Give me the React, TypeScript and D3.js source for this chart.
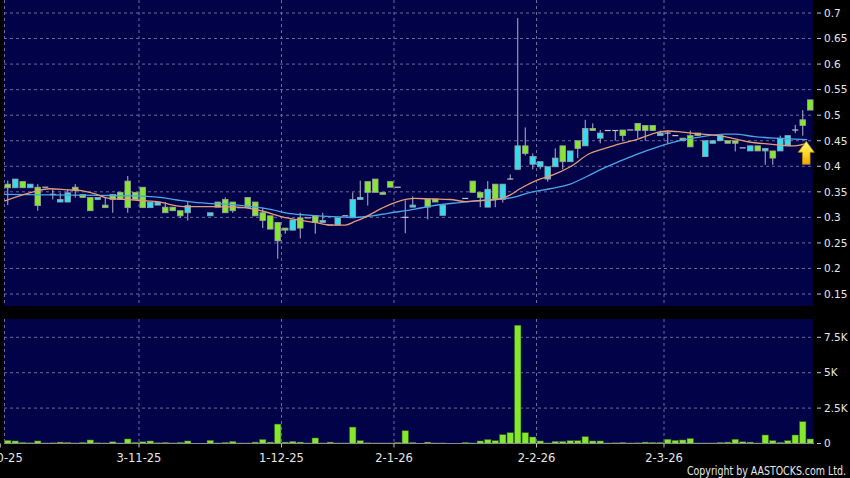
import React from 'react';
import * as d3 from 'd3';

const W = 850;
const H = 478;

// OHLC per trading-day slot (null = no trade that day)
const OPEN = [
  0.365, 0.358, 0.370, 0.358, 0.359, 0.359, 0.345, 0.330, 0.330, 0.359,
  0.345, 0.339, 0.335, 0.324, 0.345, 0.349, 0.371, 0.349, 0.359, 0.319,
  0.324, 0.320, 0.320, 0.313, 0.309, null, null, 0.303, 0.330, 0.335,
  0.330, 0.319, 0.339, 0.330, 0.309, 0.303, 0.290, 0.279, 0.275, 0.299,
  0.299, 0.303, 0.290, 0.285, 0.285, 0.303, 0.299, 0.335, 0.370, 0.375,
  0.349, 0.370, 0.359, 0.300, 0.320, null, 0.336, 0.336, 0.304, null,
  null, 0.337, 0.371, 0.349, 0.320, 0.365, 0.335, 0.375, 0.394, 0.440,
  0.404, 0.399, 0.375, 0.399, 0.440, 0.409, 0.450, 0.440, 0.474, 0.455,
  0.470, 0.470, 0.471, 0.471, 0.484, 0.480, 0.480, 0.460, 0.465, 0.460,
  0.455, 0.460, 0.465, 0.419, 0.445, 0.450, 0.450, 0.450, 0.436, 0.430,
  0.440, 0.430, 0.430, 0.430, 0.440, 0.471, 0.491, 0.530,
];
const HIGH = [
  0.372, 0.375, 0.370, 0.365, 0.365, 0.359, 0.355, 0.348, 0.355, 0.365,
  0.345, 0.339, 0.339, 0.339, 0.345, 0.349, 0.381, 0.349, 0.359, 0.330,
  0.330, 0.330, 0.320, 0.313, 0.330, null, null, 0.309, 0.330, 0.339,
  0.330, 0.319, 0.339, 0.330, 0.319, 0.303, 0.290, 0.279, 0.295, 0.309,
  0.299, 0.303, 0.309, 0.285, 0.299, 0.303, 0.349, 0.372, 0.370, 0.375,
  0.349, 0.370, 0.359, 0.333, 0.341, null, 0.336, 0.336, 0.324, null,
  null, 0.337, 0.371, 0.349, 0.371, 0.365, 0.365, 0.384, 0.690, 0.476,
  0.425, 0.409, 0.399, 0.435, 0.440, 0.430, 0.450, 0.491, 0.484, 0.471,
  0.470, 0.470, 0.471, 0.471, 0.484, 0.480, 0.480, 0.470, 0.470, 0.460,
  0.455, 0.470, 0.465, 0.450, 0.450, 0.460, 0.450, 0.450, 0.436, 0.440,
  0.440, 0.435, 0.430, 0.460, 0.460, 0.481, 0.510, 0.530,
];
const LOW = [
  0.324, 0.358, 0.358, 0.358, 0.313, 0.359, 0.335, 0.330, 0.330, 0.339,
  0.339, 0.313, 0.335, 0.319, 0.309, 0.335, 0.309, 0.335, 0.319, 0.319,
  0.324, 0.309, 0.313, 0.299, 0.294, null, null, 0.303, 0.320, 0.309,
  0.309, 0.319, 0.319, 0.303, 0.279, 0.277, 0.219, 0.268, 0.275, 0.259,
  0.299, 0.268, 0.290, 0.285, 0.285, 0.303, 0.299, 0.335, 0.323, 0.349,
  0.345, 0.359, 0.359, 0.269, 0.320, null, 0.296, 0.330, 0.304, null,
  null, 0.337, 0.349, 0.320, 0.320, 0.320, 0.329, 0.375, 0.394, 0.421,
  0.394, 0.394, 0.370, 0.399, 0.394, 0.409, 0.416, 0.440, 0.470, 0.445,
  0.470, 0.450, 0.450, 0.471, 0.455, 0.450, 0.470, 0.460, 0.445, 0.460,
  0.450, 0.438, 0.460, 0.419, 0.445, 0.450, 0.445, 0.429, 0.436, 0.430,
  0.430, 0.403, 0.403, 0.430, 0.440, 0.465, 0.460, 0.510,
];
const CLOSE = [
  0.358, 0.375, 0.358, 0.365, 0.323, 0.359, 0.345, 0.335, 0.348, 0.353,
  0.339, 0.313, 0.339, 0.319, 0.335, 0.335, 0.319, 0.335, 0.319, 0.330,
  0.330, 0.309, 0.313, 0.303, 0.323, null, null, 0.309, 0.320, 0.309,
  0.313, 0.319, 0.319, 0.303, 0.294, 0.277, 0.254, 0.275, 0.295, 0.279,
  0.299, 0.290, 0.294, 0.285, 0.299, 0.303, 0.335, 0.339, 0.349, 0.349,
  0.345, 0.359, 0.359, 0.300, 0.324, null, 0.320, 0.330, 0.324, null,
  null, 0.337, 0.349, 0.339, 0.355, 0.335, 0.365, 0.375, 0.440, 0.425,
  0.419, 0.409, 0.399, 0.416, 0.409, 0.430, 0.435, 0.474, 0.470, 0.465,
  0.470, 0.470, 0.460, 0.471, 0.470, 0.470, 0.470, 0.465, 0.465, 0.460,
  0.450, 0.438, 0.460, 0.450, 0.450, 0.460, 0.445, 0.445, 0.436, 0.440,
  0.430, 0.435, 0.416, 0.455, 0.460, 0.471, 0.480, 0.510,
];
// Volume in thousands of shares
const VOLUME = [
  0.22, 0.18, 0.08, 0.05, 0.18, 0.04, 0.05, 0.10, 0.08, 0.04,
  0.08, 0.25, 0.05, 0.04, 0.12, 0.04, 0.32, 0.08, 0.12, 0.18,
  0.05, 0.08, 0.04, 0.08, 0.18, null, null, 0.22, 0.04, 0.08,
  0.15, 0.04, 0.04, 0.10, 0.28, 0.10, 1.37, 0.10, 0.15, 0.10,
  0.04, 0.39, 0.04, 0.10, 0.04, 0.04, 1.16, 0.20, 0.05, 0.04,
  0.04, 0.04, 0.08, 0.90, 0.08, null, 0.10, 0.04, 0.04, null,
  null, 0.08, 0.04, 0.18, 0.28, 0.20, 0.62, 0.76, 8.35, 0.76,
  0.46, 0.18, 0.04, 0.15, 0.15, 0.20, 0.20, 0.48, 0.18, 0.18,
  0.04, 0.05, 0.08, 0.04, 0.05, 0.10, 0.08, 0.08, 0.30, 0.22,
  0.25, 0.35, 0.04, 0.04, 0.04, 0.08, 0.10, 0.30, 0.12, 0.10,
  0.04, 0.60, 0.20, 0.08, 0.20, 0.60, 1.54, 0.32,
];

// Moving averages (slot index, price)
const MA_FAST_IDX = [-0.45, 3.4, 5.6, 7.9, 10, 11.4, 13.6, 15.9, 17.6, 20.3, 22, 23.9, 27, 30.7, 34.3, 36.6, 38.7, 41, 43.2, 45, 46.3, 47.6, 49.9, 52, 54.3, 56.3, 59, 61, 63, 65.2, 67, 68.3, 70.6, 72.7, 75, 77.6, 79.4, 81.6, 83.6, 86.3, 88, 89.9, 92.6, 95.6, 98.7, 101.9, 104.6, 106.6];
const MA_FAST = [0.332, 0.350, 0.356, 0.354, 0.352, 0.347, 0.337, 0.335, 0.333, 0.330, 0.324, 0.321, 0.321, 0.320, 0.311, 0.301, 0.295, 0.290, 0.285, 0.285, 0.292, 0.300, 0.318, 0.331, 0.337, 0.336, 0.335, 0.331, 0.333, 0.335, 0.344, 0.356, 0.373, 0.383, 0.399, 0.425, 0.434, 0.444, 0.451, 0.465, 0.469, 0.467, 0.463, 0.458, 0.448, 0.443, 0.440, 0.445];
const MA_SLOW_IDX = [-0.45, 5.6, 12.3, 16.7, 18.6, 20.3, 22.6, 24.7, 26.3, 30.7, 35.2, 37.4, 39.6, 44, 46.3, 48.6, 50.7, 54.3, 56.3, 60.3, 63.9, 67.4, 69.2, 72.3, 75, 77.2, 79.4, 81.6, 83.6, 86.7, 89.9, 92.6, 95.6, 96.9, 99.6, 102.3, 104.9, 106.6];
const MA_SLOW = [0.345, 0.344, 0.343, 0.342, 0.341, 0.339, 0.334, 0.330, 0.328, 0.324, 0.315, 0.308, 0.305, 0.301, 0.300, 0.303, 0.308, 0.316, 0.322, 0.329, 0.334, 0.339, 0.347, 0.356, 0.365, 0.380, 0.396, 0.410, 0.422, 0.438, 0.451, 0.458, 0.463, 0.463, 0.458, 0.455, 0.453, 0.452];

const X_TICK_POS = [-1, 17.5, 36.5, 51.5, 70.5, 87.5];
const X_TICK_LABELS = ['2-10-25', '3-11-25', '1-12-25', '2-1-26', '2-2-26', '2-3-26'];
const PRICE_TICKS = [0.15, 0.2, 0.25, 0.3, 0.35, 0.4, 0.45, 0.5, 0.55, 0.6, 0.65, 0.7];
const PRICE_TICK_LABELS = ['0.15', '0.2', '0.25', '0.3', '0.35', '0.4', '0.45', '0.5', '0.55', '0.6', '0.65', '0.7'];
const VOL_TICKS = [0, 2.5, 5, 7.5];
const VOL_TICK_LABELS = ['0', '2.5K', '5K', '7.5K'];

const NAVY = '#020249';
const GRID = '#6a6a9e';
const GREEN = '#86e82c';
const CYAN = '#35dcef';
const TEXT = '#e6e6e6';

export default function App() {
  const panelL = 4;
  const panelR = 814;
  const pTop = 0;
  const pBot = 306;
  const vTop = 319;
  const vBot = 443.5;

  const x = d3.scaleLinear().domain([-0.5, OPEN.length - 0.5]).range([panelL, panelR]);
  const y = d3.scaleLinear().domain([0.15, 0.7]).range([294, 13]);
  const yv = d3.scaleLinear().domain([0, 7.5]).range([vBot, 337.3]);

  const fastLine = d3
    .line<number>()
    .x((_, i) => x(MA_FAST_IDX[i]))
    .y((d) => y(d))
    .curve(d3.curveMonotoneX);
  const slowLine = d3
    .line<number>()
    .x((_, i) => x(MA_SLOW_IDX[i]))
    .y((d) => y(d))
    .curve(d3.curveMonotoneX);

  const bw = 5.6;
  const vw = 6.4;
  const font = '"DejaVu Sans", Verdana, sans-serif';

  // arrow position near last slot
  const ax = x(OPEN.length - 2) + 3.5;
  const aTip = y(0.449);

  return (
    <svg
      width={W}
      height={H}
      style={{ position: 'absolute', left: 0, top: 0, background: '#000', display: 'block' }}
    >
      <defs>
        <linearGradient id="edge" x1="0" x2="1" y1="0" y2="0">
          <stop offset="0" stopColor={NAVY} stopOpacity={0} />
          <stop offset="1" stopColor="#000" stopOpacity={0.7} />
        </linearGradient>
        <linearGradient id="arrowFill" x1="0" x2="0" y1="0" y2="1">
          <stop offset="0" stopColor="#fff68a" />
          <stop offset="0.45" stopColor="#ffe033" />
          <stop offset="1" stopColor="#f0a800" />
        </linearGradient>
        <clipPath id="pclip">
          <rect x={panelL} y={pTop} width={panelR - panelL} height={pBot - pTop} />
        </clipPath>
      </defs>
      <rect x={0} y={0} width={W} height={H} fill="#000" />

      {/* price panel */}
      <rect x={panelL} y={pTop} width={panelR - panelL} height={pBot - pTop} fill={NAVY} />
      {/* volume panel */}
      <rect x={panelL} y={vTop} width={panelR - panelL} height={vBot - vTop} fill={NAVY} />
      {/* right edge shading */}
      <rect x={panelR - 4} y={pTop} width={4} height={pBot - pTop} fill="url(#edge)" />
      <rect x={panelR - 4} y={vTop} width={4} height={vBot - vTop} fill="url(#edge)" />

      {/* horizontal grid price */}
      {PRICE_TICKS.map((t) => (
        <line key={'pg' + t} x1={panelL} x2={panelR} y1={y(t)} y2={y(t)} stroke={GRID} strokeWidth={1} strokeDasharray="3,3" />
      ))}
      {VOL_TICKS.filter((t) => t > 0).map((t) => (
        <line key={'vg' + t} x1={panelL} x2={panelR} y1={yv(t)} y2={yv(t)} stroke={GRID} strokeWidth={1} strokeDasharray="3,3" />
      ))}
      {/* vertical grid */}
      {[panelL + 0.5, ...X_TICK_POS.filter((p) => x(p) > panelL + 2).map((p) => x(p))].map((px, i) => (
        <g key={'vgrid' + i}>
          <line x1={px} x2={px} y1={pTop} y2={pBot} stroke={GRID} strokeDasharray="3,3" />
          <line x1={px} x2={px} y1={vTop} y2={vBot} stroke={GRID} strokeDasharray="3,3" />
        </g>
      ))}

      {/* candles */}
      <g clipPath="url(#pclip)">
        {OPEN.map((o, i) => {
          const c = CLOSE[i];
          const h = HIGH[i];
          const l = LOW[i];
          if (o === null || c === null || h === null || l === null) return null;
          const cx = x(i);
          const doji = Math.abs(o - c) < 1e-9;
          const up = c > o;
          const top = y(Math.max(o, c));
          const bot = y(Math.min(o, c));
          return (
            <g key={'c' + i}>
              {h - l > 1e-9 && (
                <line x1={cx} x2={cx} y1={y(h)} y2={y(l)} stroke="#b4b4c4" strokeWidth={1} />
              )}
              {doji ? (
                <line x1={cx - 3} x2={cx + 3} y1={top} y2={top} stroke="#c4c4cc" strokeWidth={1.2} />
              ) : (
                <rect
                  x={cx - bw / 2}
                  y={top}
                  width={bw}
                  height={Math.max(1, bot - top)}
                  fill={up ? CYAN : GREEN}
                  stroke="#9aa0a6"
                  strokeWidth={0.8}
                />
              )}
            </g>
          );
        })}
        <path d={slowLine(MA_SLOW) || ''} fill="none" stroke="#4aa6e6" strokeWidth={1.3} />
        <path d={fastLine(MA_FAST) || ''} fill="none" stroke="#e39b78" strokeWidth={1.3} />
      </g>

      {/* arrow */}
      <path
        d={`M${ax},${aTip} L${ax + 8},${aTip + 11} L${ax + 3.8},${aTip + 11} L${ax + 3.8},${aTip + 23} L${ax - 3.8},${aTip + 23} L${ax - 3.8},${aTip + 11} L${ax - 8},${aTip + 11} Z`}
        fill="url(#arrowFill)"
        stroke="#c08a00"
        strokeWidth={0.8}
      />

      {/* volume bars */}
      {VOLUME.map((v, i) =>
        v === null ? null : (
          <rect
            key={'v' + i}
            x={x(i) - vw / 2}
            y={yv(v)}
            width={vw}
            height={vBot - yv(v)}
            fill={GREEN}
            stroke="#3a6a14"
            strokeWidth={0.5}
          />
        )
      )}

      {/* x axis */}
      <line x1={panelL} x2={panelR} y1={vBot} y2={vBot} stroke="#8a8a9a" strokeWidth={1} />
      {X_TICK_POS.map((p, i) => (
        <g key={'xt' + i}>
          <line x1={x(p)} x2={x(p)} y1={vBot} y2={vBot + 4} stroke="#c0c0c0" />
          <text x={x(p)} y={462} fill={TEXT} fontSize={11.5} fontFamily={font} textAnchor="middle">
            {X_TICK_LABELS[i]}
          </text>
        </g>
      ))}

      {/* price axis */}
      {PRICE_TICKS.map((t, i) => (
        <g key={'pt' + t}>
          <line x1={817} x2={821} y1={y(t)} y2={y(t)} stroke="#c8c8c8" />
          <text x={824} y={y(t)} dy="0.36em" fill={TEXT} fontSize={10.5} fontFamily={font}>
            {PRICE_TICK_LABELS[i]}
          </text>
        </g>
      ))}
      {/* volume axis */}
      {VOL_TICKS.map((t, i) => (
        <g key={'vt' + t}>
          <line x1={817} x2={821} y1={yv(t)} y2={yv(t)} stroke="#c8c8c8" />
          <text x={824} y={yv(t)} dy="0.36em" fill={TEXT} fontSize={10.5} fontFamily={font}>
            {VOL_TICK_LABELS[i]}
          </text>
        </g>
      ))}

      <text
        x={846}
        y={474.5}
        fill={TEXT}
        fontSize={12}
        fontFamily={font}
        textAnchor="end"
        textLength={159}
        lengthAdjust="spacingAndGlyphs"
      >
        Copyright by AASTOCKS.com Ltd.
      </text>
    </svg>
  );
}
